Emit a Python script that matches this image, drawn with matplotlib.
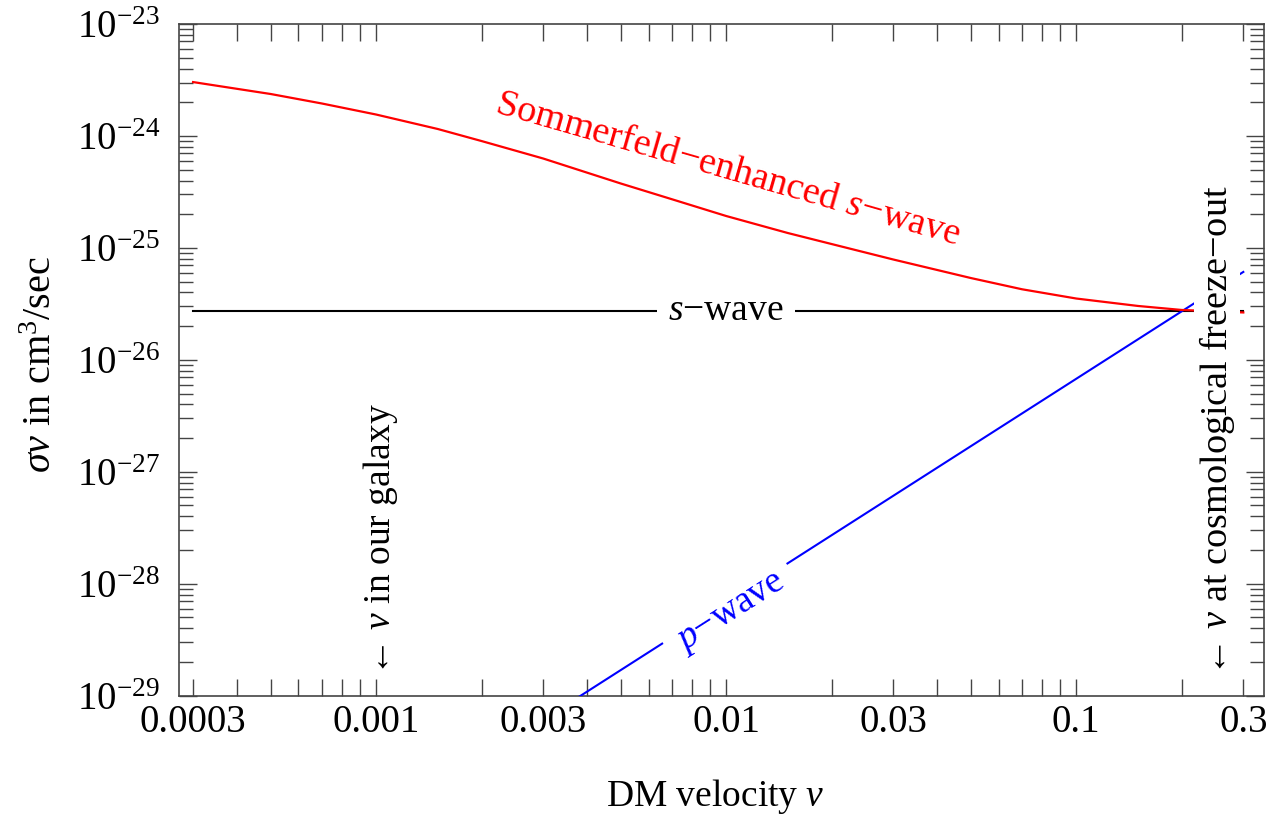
import numpy as np
import matplotlib
matplotlib.use("Agg")
import matplotlib.pyplot as plt
from matplotlib.ticker import FixedLocator, NullFormatter, LogLocator

plt.rcParams['font.family'] = ['Liberation Serif', 'DejaVu Serif']
plt.rcParams['mathtext.fontset'] = 'custom'
plt.rcParams['mathtext.rm'] = 'Liberation Serif'
plt.rcParams['mathtext.it'] = 'Liberation Serif:italic'

# s-wave (constant)
v_s = [0.0003, 0.3]
sv_s = [2.75e-26, 2.75e-26]

# Sommerfeld-enhanced s-wave
v_som = [0.0003, 0.0005, 0.0007, 0.001, 0.0015, 0.002, 0.003, 0.005, 0.007,
         0.01, 0.015, 0.02, 0.03, 0.05, 0.07, 0.1, 0.15, 0.2, 0.3]
sv_som = [3.03e-24, 2.37e-24, 1.95e-24, 1.554e-24, 1.154e-24, 9.01e-25, 6.29e-25,
          3.76e-25, 2.72e-25, 1.927e-25, 1.358e-25, 1.083e-25, 7.88e-26, 5.38e-26,
          4.27e-26, 3.53e-26, 3.03e-26, 2.79e-26, 2.65e-26]

# p-wave (straight line in log-log)
v_p = [0.0003, 0.003, 0.03, 0.3]
sv_p = [6.1e-32, 6.1e-30, 6.1e-28, 6.1e-26]

xticks_major = [0.0003, 0.001, 0.003, 0.01, 0.03, 0.1, 0.3]
xtick_labels = ['0.0003', '0.001', '0.003', '0.01', '0.03', '0.1', '0.3']
xticks_minor = [k * 10.0**n for n in range(-4, 0) for k in range(1, 10)]
yticks_major = [1e-29, 1e-28, 1e-27, 1e-26, 1e-25, 1e-24, 1e-23]
ytick_labels = [r'$10^{-29}$', r'$10^{-28}$', r'$10^{-27}$', r'$10^{-26}$',
                r'$10^{-25}$', r'$10^{-24}$', r'$10^{-23}$']

fig = plt.figure(figsize=(12.68, 8.17), dpi=100)
ax = fig.add_axes([0.1414, 0.1485, 0.8554, 0.8221])

ax.plot(v_s, sv_s, color='black', lw=1.5, zorder=2)
ax.plot(v_p, sv_p, color='#0000ff', lw=1.5, zorder=3)
ax.plot(v_som, sv_som, color='#ff0000', lw=1.6, zorder=4)

ax.set_xscale('log')
ax.set_yscale('log')
ax.set_xlim(0.000274, 0.3436)
ax.set_ylim(1e-29, 1e-23)

frame_col = '#444444'
for sp in ax.spines.values():
    sp.set_color(frame_col)
    sp.set_linewidth(1.2)

ax.xaxis.set_major_locator(FixedLocator(xticks_major))
ax.set_xticklabels(xtick_labels)
ax.xaxis.set_minor_locator(FixedLocator(xticks_minor))
ax.xaxis.set_minor_formatter(NullFormatter())
ax.yaxis.set_major_locator(FixedLocator(yticks_major))
ax.set_yticklabels(ytick_labels)
ax.yaxis.set_minor_locator(LogLocator(base=10, subs=np.arange(2, 10)))
ax.yaxis.set_minor_formatter(NullFormatter())

ax.tick_params(which='both', direction='in', top=True, right=True,
               color=frame_col, width=1.0, labelsize=28)
ax.tick_params(axis='x', which='both', length=12, pad=6)
ax.tick_params(axis='y', which='major', length=13, pad=14)
ax.tick_params(axis='y', which='minor', length=10)

fs = 27
ax.text(0.01, 2.75e-26, r'$s$' + '\u2212wave', fontsize=fs, ha='center', va='center',
        zorder=5, bbox=dict(boxstyle='square,pad=0.3', fc='white', ec='none'))
ax.text(0.0103, 5.5e-29, r'$p$' + '\u2212wave', fontsize=fs, color='#0000ff',
        ha='center', va='center', rotation=32.5, rotation_mode='anchor', zorder=5,
        bbox=dict(boxstyle='square,pad=0.33', fc='white', ec='none'))
ax.text(0.0101, 4.97e-25, 'Sommerfeld\u2212enhanced ' + r'$s$' + '\u2212wave',
        fontsize=fs + 0.5, color='#ff0000', ha='center', va='center', rotation=-16,
        rotation_mode='anchor', zorder=5)
ax.text(0.00103, 1.5e-29, '\u2190 ' + r'$v$' + ' in our galaxy', fontsize=fs,
        rotation=90, ha='center', va='bottom', zorder=5)
ax.text(0.2525, 1.5e-29, '\u2190 ' + r'$v$' + ' at cosmological freeze\u2212out',
        fontsize=fs + 0.5, rotation=90, ha='center', va='bottom', zorder=5,
        bbox=dict(boxstyle='square,pad=0.08', fc='white', ec='none'))

fig.text(715 / 1268, 1 - 797 / 817, 'DM velocity ' + r'$v$', fontsize=fs,
         ha='center', va='center')
fig.text(42 / 1268, 1 - 364 / 817, r'$\sigma v$' + ' in cm' + r'$^3$' + '/sec',
         fontsize=29, rotation=90, ha='center', va='center')

fig.savefig('out.png', dpi=100)
